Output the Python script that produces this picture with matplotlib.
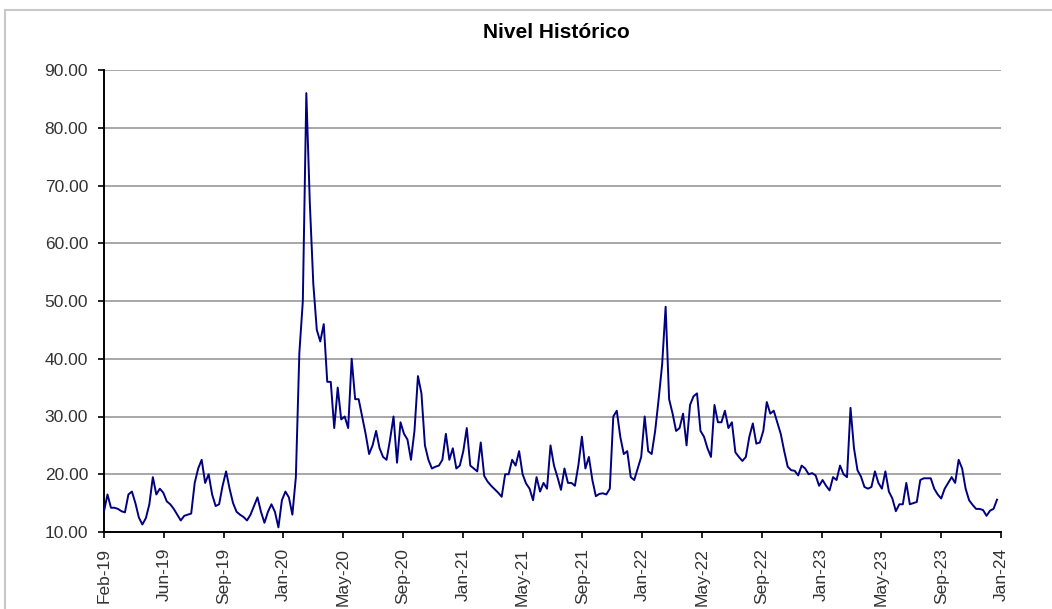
import matplotlib
matplotlib.use("Agg")
import matplotlib.pyplot as plt
import matplotlib.patches as patches
import numpy as np
import pandas as pd

plt.rcParams['font.family'] = ['Liberation Sans', 'DejaVu Sans']

title = "Nivel Histórico"
start_date = "2019-02-01"
end_date = "2024-01-06"

# weekly readings of the historical level (one value every 7 days from start_date)
nivel = [
    13.6, 16.5, 14.2, 14.2, 14.0, 13.6, 13.4, 16.5, 17.0, 15.0,
    12.5, 11.3, 12.4, 14.8, 19.5, 16.5, 17.5, 16.8, 15.3, 14.8,
    14.0, 13.0, 12.0, 12.8, 13.0, 13.2, 18.5, 21.0, 22.5, 18.5,
    20.0, 16.5, 14.5, 14.8, 18.0, 20.5, 17.5, 15.0, 13.5, 13.0,
    12.6, 12.0, 13.0, 14.5, 16.0, 13.5, 11.6, 13.5, 14.8, 13.5,
    10.8, 15.5, 17.0, 16.0, 13.0, 19.5, 41.0, 50.0, 86.0, 67.0,
    53.0, 45.0, 43.0, 46.0, 36.0, 36.0, 28.0, 35.0, 29.5, 30.0,
    28.0, 40.0, 33.0, 33.0, 30.0, 27.0, 23.5, 25.0, 27.5, 24.5,
    23.0, 22.5, 26.0, 30.0, 22.0, 29.0, 27.0, 26.0, 22.5, 27.5,
    37.0, 34.0, 25.0, 22.5, 21.0, 21.3, 21.5, 22.5, 27.0, 22.5,
    24.5, 21.0, 21.5, 24.0, 28.0, 21.5, 21.0, 20.5, 25.5, 19.7,
    18.7, 18.0, 17.4, 16.8, 16.1, 20.0, 20.0, 22.5, 21.5, 24.0,
    20.0, 18.4, 17.5, 15.5, 19.5, 17.0, 18.5, 17.5, 25.0, 21.5,
    19.5, 17.3, 21.0, 18.5, 18.5, 18.0, 21.6, 26.5, 21.0, 23.0,
    19.0, 16.2, 16.6, 16.7, 16.5, 17.5, 30.0, 31.0, 26.5, 23.5,
    24.0, 19.5, 19.0, 21.0, 23.0, 30.0, 24.0, 23.5, 27.5, 33.0,
    39.0, 49.0, 33.0, 30.5, 27.5, 28.0, 30.5, 25.0, 32.0, 33.5,
    34.0, 27.5, 26.5, 24.5, 23.0, 32.0, 29.0, 29.0, 31.0, 28.0,
    29.0, 23.8, 23.0, 22.3, 23.0, 26.5, 28.8, 25.3, 25.5, 27.5,
    32.5, 30.5, 31.0, 29.0, 27.0, 24.0, 21.3, 20.7, 20.6, 19.8,
    21.5, 21.0, 20.0, 20.2, 19.8, 18.0, 19.0, 18.0, 17.2, 19.5,
    19.0, 21.5, 20.0, 19.5, 31.5, 24.5, 20.7, 19.6, 17.8, 17.5,
    17.8, 20.5, 18.5, 17.5, 20.5, 17.0, 15.8, 13.6, 14.8, 14.8,
    18.5, 14.8, 15.0, 15.2, 19.0, 19.3, 19.3, 19.3, 17.5, 16.5,
    15.8, 17.5, 18.5, 19.5, 18.5, 22.5, 21.0, 17.5, 15.5, 14.7,
    14.0, 14.0, 13.8, 12.8, 13.7, 14.0, 15.6,
]
dates = pd.date_range(start_date, periods=len(nivel), freq="7D")

tick_dates = pd.date_range(start_date, periods=16, freq="120D")
tick_labels = ['Feb-19', 'Jun-19', 'Sep-19', 'Jan-20', 'May-20', 'Sep-20',
               'Jan-21', 'May-21', 'Sep-21', 'Jan-22', 'May-22', 'Sep-22',
               'Jan-23', 'May-23', 'Sep-23', 'Jan-24']
y_ticks = [10, 20, 30, 40, 50, 60, 70, 80, 90]

W, H = 1052, 609
fig = plt.figure(figsize=(W / 100, H / 100), dpi=100)
ax = fig.add_axes([104 / W, 1 - 532 / H, (1001 - 104) / W, (532 - 70) / H])

ax.plot(dates, nivel, color='#000080', lw=1.4, zorder=3)

ax.set_xlim(pd.Timestamp(start_date), pd.Timestamp(end_date))
ax.set_ylim(10, 90)
ax.set_yticks(y_ticks)
ax.set_yticklabels([f"{v:.2f}" for v in y_ticks])
ax.set_xticks(tick_dates)
ax.set_xticklabels(tick_labels, rotation=90)

ax.grid(axis='y', color='#909090', lw=1.1, zorder=1)
ax.set_axisbelow(True)
for s in ['top', 'right']:
    ax.spines[s].set_visible(False)
for s in ['left', 'bottom']:
    ax.spines[s].set_color('black')
    ax.spines[s].set_linewidth(1.4)
ax.tick_params(axis='both', direction='out', length=4.5, width=1.2, color='black',
               labelsize=12.5, labelcolor='#333333', pad=7)

fig.text(556 / W, 1 - 33 / H, title, ha='center', va='center',
         fontsize=15, fontweight='bold', color='black')

frame = patches.Rectangle((5 / W, -0.1), 1.2, (1 - 10 / H) + 0.1, transform=fig.transFigure,
                          fill=False, edgecolor='#c8c8c8', lw=1.5)
fig.patches.append(frame)

fig.savefig("out.png", dpi=100, facecolor='white')
